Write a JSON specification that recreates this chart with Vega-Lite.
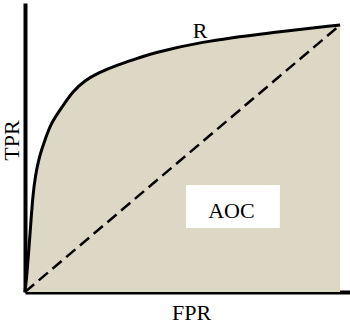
{
  "$schema": "https://vega.github.io/schema/vega-lite/v6.json",
  "width": 325,
  "height": 289,
  "autosize": {"type": "none"},
  "padding": {"left": 25, "top": 3, "right": 0, "bottom": 31},
  "background": "white",
  "config": {"view": {"stroke": null}},
  "datasets": {
    "roc": [
      {"fpr": 0.0, "tpr": 0.0},
      {"fpr": 0.005, "tpr": 0.05},
      {"fpr": 0.012, "tpr": 0.157},
      {"fpr": 0.019, "tpr": 0.27},
      {"fpr": 0.025, "tpr": 0.363},
      {"fpr": 0.033, "tpr": 0.438},
      {"fpr": 0.043, "tpr": 0.494},
      {"fpr": 0.052, "tpr": 0.532},
      {"fpr": 0.063, "tpr": 0.569},
      {"fpr": 0.082, "tpr": 0.633},
      {"fpr": 0.117, "tpr": 0.693},
      {"fpr": 0.151, "tpr": 0.752},
      {"fpr": 0.189, "tpr": 0.792},
      {"fpr": 0.23, "tpr": 0.82},
      {"fpr": 0.29, "tpr": 0.85},
      {"fpr": 0.363, "tpr": 0.878},
      {"fpr": 0.394, "tpr": 0.892},
      {"fpr": 0.552, "tpr": 0.937},
      {"fpr": 0.763, "tpr": 0.97},
      {"fpr": 0.994, "tpr": 1.0}
    ],
    "diag": [{"x": 0.0, "y": 0.0, "x2": 0.994, "y2": 1.0}],
    "box": [{"x": 0.508, "x2": 0.804, "y": 0.24, "y2": 0.401}],
    "labels": [
      {"x": 0.552, "y": 0.951, "text": "R"},
      {"x": 0.651, "y": 0.277, "text": "AOC"}
    ]
  },
  "layer": [
    {
      "data": {"name": "roc"},
      "mark": {"type": "area", "interpolate": "basis", "color": "#dcd8c5"},
      "encoding": {
        "x": {
          "field": "fpr", "type": "quantitative",
          "scale": {"domain": [0, 1.0252], "nice": false, "zero": false},
          "axis": {
            "title": "FPR", "labels": false, "ticks": false, "grid": false,
            "domainColor": "black", "domainWidth": 4,
            "titleFont": "Liberation Serif", "titleFontSize": 22, "titleFontWeight": "normal",
            "titleColor": "black", "titleBaseline": "alphabetic",
            "titleX": 166, "titleY": 27
          }
        },
        "y": {
          "field": "tpr", "type": "quantitative",
          "scale": {"domain": [0, 1.0824], "nice": false, "zero": false},
          "axis": {
            "title": "TPR", "labels": false, "ticks": false, "grid": false,
            "domainColor": "black", "domainWidth": 4,
            "titleFont": "Liberation Serif", "titleFontSize": 22, "titleFontWeight": "normal",
            "titleColor": "black", "titleBaseline": "alphabetic",
            "titleX": -7, "titleY": 137
          }
        }
      }
    },
    {
      "data": {"name": "roc"},
      "mark": {"type": "line", "interpolate": "basis", "color": "black", "strokeWidth": 3},
      "encoding": {
        "x": {"field": "fpr", "type": "quantitative"},
        "y": {"field": "tpr", "type": "quantitative"}
      }
    },
    {
      "data": {"name": "diag"},
      "mark": {"type": "rule", "color": "black", "strokeWidth": 2.5, "strokeDash": [12, 6]},
      "encoding": {
        "x": {"field": "x", "type": "quantitative"},
        "y": {"field": "y", "type": "quantitative"},
        "x2": {"field": "x2"},
        "y2": {"field": "y2"}
      }
    },
    {
      "data": {"name": "box"},
      "mark": {"type": "rect", "color": "white"},
      "encoding": {
        "x": {"field": "x", "type": "quantitative"},
        "x2": {"field": "x2"},
        "y": {"field": "y", "type": "quantitative"},
        "y2": {"field": "y2"}
      }
    },
    {
      "data": {"name": "labels"},
      "mark": {"type": "text", "font": "Liberation Serif", "fontSize": 22, "color": "black", "align": "center", "baseline": "alphabetic"},
      "encoding": {
        "x": {"field": "x", "type": "quantitative"},
        "y": {"field": "y", "type": "quantitative"},
        "text": {"field": "text"}
      }
    }
  ]
}
